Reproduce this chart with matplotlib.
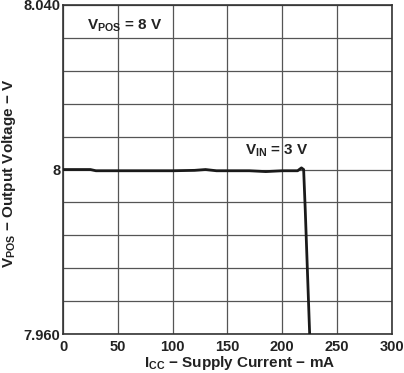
import matplotlib
matplotlib.use("Agg")
import matplotlib.pyplot as plt
import numpy as np

# Data
icc_ma = [0, 25, 30, 60, 100, 120, 130, 140, 170, 185, 200, 210, 214, 217.5, 219.5, 221, 225]
vpos_v = [8.0000, 8.0000, 7.9997, 7.9997, 7.9997, 7.9998, 8.0000, 7.9997, 7.9997, 7.9995,
          7.9997, 7.9997, 7.9997, 8.0004, 8.0000, 7.9900, 7.9600]

x_ticks = [0, 50, 100, 150, 200, 250, 300]
y_grid = [7.960 + 0.008 * i for i in range(11)]
y_labels = {7.960: "7.960", 8.000: "8", 8.040: "8.040"}

plt.rcParams['font.family'] = ['Liberation Sans', 'DejaVu Sans']
plt.rcParams['font.weight'] = 'bold'
plt.rcParams['mathtext.fontset'] = 'custom'
plt.rcParams['mathtext.rm'] = 'Liberation Sans:bold'
plt.rcParams['mathtext.it'] = 'Liberation Sans:bold'
plt.rcParams['mathtext.bf'] = 'Liberation Sans:bold'

W, H = 404, 373
fig = plt.figure(figsize=(W / 100, H / 100), dpi=100)
ax = fig.add_axes([0.156, 0.104, 0.814, 0.883])

ax.plot(icc_ma, vpos_v, color='#1a1a1a', lw=2.0, solid_joinstyle='round', zorder=3)

ax.set_xlim(0, 300)
ax.set_ylim(7.960, 8.040)
ax.set_xticks(x_ticks)
ax.set_xticklabels([str(t) for t in x_ticks])
ax.set_yticks(y_grid)
labs = []
for v in y_grid:
    key = round(v, 3)
    labs.append(y_labels.get(key, ""))
ax.set_yticklabels(labs)
ax.tick_params(length=0, labelsize=10.5, colors='#222222')
ax.tick_params(axis='x', pad=4)
ax.tick_params(axis='y', pad=2)
for lbl in ax.get_xticklabels() + ax.get_yticklabels():
    lbl.set_fontweight('bold')

ax.grid(True, color='#555555', lw=0.9)
ax.set_axisbelow(True)
for s in ax.spines.values():
    s.set_color('#333333')
    s.set_linewidth(1.2)

ax.text(21.9, 8.0341, r'V$_{\rm POS}$ = 8 V', fontsize=11, fontweight='bold', color='#222222', va='baseline')
ax.text(166, 8.0036, r'V$_{\rm IN}$ = 3 V', fontsize=11, fontweight='bold', color='#222222', va='baseline')

fig.text(240 / W, 1 - 367 / H, r'I$_{\rm CC}$ $-$ Supply Current $-$ mA', fontsize=11,
         fontweight='bold', color='#222222', ha='center', va='baseline')
fig.text(0.5 / W, 1 - 173 / H, r'V$_{\rm POS}$ $-$ Output Voltage $-$ V', fontsize=11,
         fontweight='bold', color='#222222', ha='left', va='center', rotation=90)

fig.savefig('out.png', dpi=100, facecolor='white')
